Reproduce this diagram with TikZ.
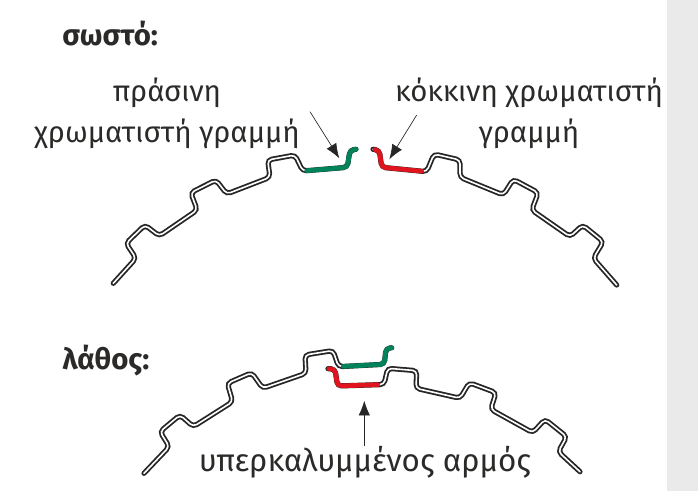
\documentclass[tikz,border=0pt]{standalone}
\usepackage{fontspec}
\setmainfont{Fira Sans}
\usepackage{xcolor}
\usetikzlibrary{arrows.meta}
\definecolor{panelgray}{HTML}{EAEAEA}
\definecolor{jointgreen}{HTML}{00835A}
\definecolor{jointred}{HTML}{E0141E}
\definecolor{textgray}{HTML}{2B2A29}
\tikzset{
    strip/.style={draw=black!85, line width=3.9pt, rounded corners=3pt, line cap=round, postaction={draw=white, line width=1.2pt}},
    stripgreen/.style={draw=jointgreen, line width=3.5pt, rounded corners=3pt, line cap=round},
    stripred/.style={draw=jointred, line width=3.5pt, rounded corners=3pt, line cap=round},
    pointer/.style={draw=black!85, line width=0.5pt, -{Latex[length=11pt,width=8.5pt]}},
    label/.style={text=textgray, font=\fontsize{22}{26}\selectfont, align=center, inner sep=0pt},
    heading/.style={text=textgray, font=\fontsize{22}{26}\selectfont\bfseries, anchor=base west, inner sep=0pt}
}
\begin{document}
\begin{tikzpicture}[x=0.75pt,y=-0.75pt]
    \useasboundingbox (0,0) rectangle (698,491);
    % grey margin
    \fill[panelgray] (667,0) rectangle (698,491);
    % headings
    \node[heading] (headright) at (62,46) {σωστό:};
    \node[heading] (headwrong) at (62,369) {λάθος:};
    % correct joint, left part
    \draw[strip] (113.3,283.3) -- (136,258.3) -- (126,243.3) -- (145,225) -- (159.3,236) -- (197.3,210) -- (190.7,192.7) -- (216,180) -- (226.7,194) -- (270,177.3) -- (267.7,160) -- (295,155) -- (302.7,171) -- (347.3,167.3) -- (350,150) -- (356,149.3);
    \draw[stripgreen] (306.7,170.7) -- (347.3,167.3) -- (350,150) -- (356,149.3);
    % correct joint, right part
    \draw[strip] (373,149.3) -- (379.3,150.2) -- (381.7,167.3) -- (426.7,171.7) -- (434,154) -- (460,160) -- (460,177.3) -- (503.3,195) -- (513.3,179.3) -- (538.3,192.7) -- (531.7,210) -- (570,236.7) -- (582.7,225) -- (603.3,241.7) -- (593.3,258.3) -- (616.7,285);
    \draw[stripred] (375,149.6) -- (379.3,150.2) -- (381.7,167.3) -- (421.7,171.2);
    % wrong joint, left part
    \draw[strip] (144,473.3) -- (169.3,446.7) -- (160,431.7) -- (180,415) -- (193.3,426.7) -- (232.7,401.7) -- (227.3,383.3) -- (251.7,372.7) -- (262.7,388.3) -- (306,373.3) -- (305,355) -- (333,350.5) -- (338.5,366.7) -- (384.3,364.3) -- (386,348.3) -- (391.7,347.8);
    \draw[stripgreen] (343.3,366.4) -- (384.3,364.3) -- (386,348.3) -- (391.7,347.8);
    % wrong joint, right part
    \draw[strip] (328,368.7) -- (335,369) -- (337.5,386) -- (384,384.5) -- (387.7,368.3) -- (416.7,370.7) -- (416,388.3) -- (460,398.3) -- (469.3,382.7) -- (496,392.7) -- (490.7,409.3) -- (532.7,432.7) -- (545,419.3) -- (566.7,436.7) -- (558.3,451.7) -- (580,471.7);
    \draw[stripred] (329,368.8) -- (335,369) -- (337.5,386) -- (377.5,384.7);
    % labels
    \node[label] (labgreen) at (167,93) {πράσινη};
    \node[label] (labgreenb) at (167,134) {χρωματιστή γραμμή};
    \node[label] (labred) at (529,93) {κόκκινη χρωματιστή};
    \node[label] (labredb) at (529,134) {γραμμή};
    \node[label, font=\fontsize{23.5}{26}\selectfont] (labover) at (365,462) {υπερκαλυμμένος αρμός};
    % pointers
    \coordinate (tipgreen) at (339.3,158.3);
    \coordinate (tipred) at (389.3,159.3);
    \coordinate (tipover) at (364.3,400.7);
    \coordinate (tailgreen) at (310,111.7);
    \coordinate (tailred) at (416.7,115);
    \draw[pointer] (tailgreen) -- (tipgreen);
    \draw[pointer] (tailred) -- (tipred);
    \draw[pointer] (labover.north -| tipover) -- (tipover);
\end{tikzpicture}
\end{document}
